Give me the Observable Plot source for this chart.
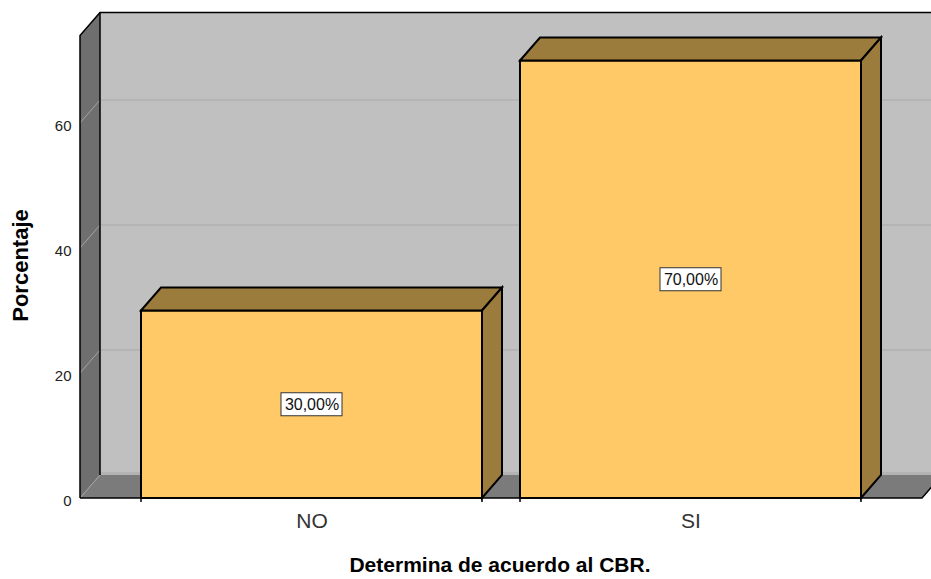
<!DOCTYPE html>
<html><head><meta charset="utf-8">
<script src="https://cdn.jsdelivr.net/npm/d3@7"></script>
<script src="https://cdn.jsdelivr.net/npm/@observablehq/plot@0.6"></script>
<style>body{margin:0;background:#fff}</style>
</head><body><div id="chart"></div>
<script>
const categories = ["NO", "SI"];
const percentages = [30, 70];
const valueLabels = ["30,00%", "70,00%"];
const yTicks = [0, 20, 40, 60];
const xTitle = "Determina de acuerdo al CBR.";
const yTitle = "Porcentaje";

const data = categories.map((c, i) => ({cat: c, value: percentages[i], label: valueLabels[i]}));

const W = 931, H = 579;
const DX = 20, DY = -23;          // 3D depth offset (px)
const WALL_TOP = 74;              // wall height in y units
const FONT = "'Liberation Sans', Arial, Helvetica, sans-serif";
const FRONT = "#fec966", SHADE = "#9c7c3d";

function bw(x) { return typeof x.bandwidth === "function" ? x.bandwidth() : x.bandwidth; }
function path(g, pts, fill, stroke, sw, close = true) {
  g.append("path")
    .attr("d", "M" + pts.map(p => p.join(",")).join("L") + (close ? "Z" : ""))
    .attr("fill", fill || "none")
    .attr("stroke", stroke || "none")
    .attr("stroke-width", sw || 0)
    .attr("stroke-linejoin", "miter");
}

function backdrop(index, scales) {
  const {x, y} = scales;
  const b = bw(x);
  const r0 = x(categories[0]), r1 = x(categories[categories.length - 1]) + b;
  const L = r0 - 61, R = r1 + 61, FAR = W + 60;
  const y0 = y(0), yt = y(WALL_TOP);
  const g = d3.create("svg:g");
  path(g, [[L + DX, yt + DY], [FAR, yt + DY], [FAR, y0 + DY], [L + DX, y0 + DY]], "#c0c0c0");
  path(g, [[L + DX, y0 + DY - 3], [FAR, y0 + DY - 3], [FAR, y0 + DY], [L + DX, y0 + DY]], "#b3b3b3");
  path(g, [[L, y0], [R, y0], [R + DX, y0 + DY], [L + DX, y0 + DY]], "#7b7b7b");
  path(g, [[L, y0], [L, yt], [L + DX, yt + DY], [L + DX, y0 + DY]], "#6f6f6f");
  for (const t of yTicks) {
    if (t > 0) path(g, [[L + DX, y(t) + DY], [FAR, y(t) + DY]], null, "#a8a8a8", 1, false);
    path(g, [[L, y(t)], [L + DX, y(t) + DY]], null, "#a4a4a4", 1, false);
  }
  path(g, [[L, y0], [L, yt], [L + DX, yt + DY], [FAR, yt + DY]], null, "#000", 1.5, false);
  path(g, [[L + DX, yt + DY], [L + DX, y0 + DY]], null, "#000", 1.5, false);
  path(g, [[L, y0], [R, y0], [R + DX, y0 + DY]], null, "#000", 1.5, false);
  return g.node();
}

function barDepth(index, scales) {
  const {x, y} = scales;
  const b = bw(x);
  const g = d3.create("svg:g");
  for (const d of data) {
    const x0 = x(d.cat), x1 = x0 + b, yv = y(d.value), yb = y(0);
    path(g, [[x0, yv], [x0 + DX, yv + DY], [x1 + DX, yv + DY], [x1, yv]], SHADE, "#000", 2);
    path(g, [[x1, yv], [x1 + DX, yv + DY], [x1 + DX, yb + DY], [x1, yb]], SHADE, "#000", 2);
    path(g, [[x0, yb], [x0, yb + 4]], null, "#000", 1.5, false);
    path(g, [[x1, yb], [x1, yb + 4]], null, "#000", 1.5, false);
  }
  return g.node();
}

function labelBoxes(index, scales) {
  const {x, y} = scales;
  const b = bw(x);
  const g = d3.create("svg:g");
  for (const d of data) {
    const cx = x(d.cat) + b / 2, cy = y(d.value / 2);
    g.append("rect").attr("x", cx - 30.5).attr("y", cy - 11.5).attr("width", 61).attr("height", 23)
      .attr("fill", "#fff").attr("stroke", "#333").attr("stroke-width", 1);
  }
  return g.node();
}

const chart = Plot.plot({
  width: W,
  height: H,
  marginLeft: 80,
  marginRight: 0,
  marginTop: 0,
  marginBottom: 81,
  style: {fontFamily: FONT, background: "#fff", overflow: "hidden"},
  x: {type: "band", domain: categories, range: [141, 862], paddingInner: 0.1, paddingOuter: 0, axis: null},
  y: {domain: [0, 70], range: [498, 60.5], axis: null},
  marks: [
    backdrop,
    Plot.barY(data, {x: "cat", y: "value", fill: FRONT, stroke: "#000", strokeWidth: 2}),
    barDepth,
    labelBoxes,
    Plot.text(data, {x: "cat", y: d => d.value / 2, text: "label", fontSize: 16, fill: "#111"}),
    Plot.text(yTicks, {y: d => d, text: d => String(d), frameAnchor: "left", textAnchor: "end", lineAnchor: "middle", dx: -9, dy: 3, fontSize: 15, fill: "#222"}),
    Plot.text(categories, {x: d => d, y: d => 0, text: d => d, dy: 23, fontSize: 21, fill: "#333"}),
    Plot.text([xTitle], {frameAnchor: "bottom", textAnchor: "middle", lineAnchor: "middle", text: d => d, dx: -6, dy: 67, fontSize: 21, fontWeight: "bold", fill: "#000"}),
    Plot.text([yTitle], {frameAnchor: "left", textAnchor: "middle", lineAnchor: "middle", text: d => d, dx: -60, dy: 16, rotate: -90, fontSize: 22, fontWeight: "bold", fill: "#000"})
  ]
});
document.getElementById("chart").appendChild(chart);
</script>
</body></html>
